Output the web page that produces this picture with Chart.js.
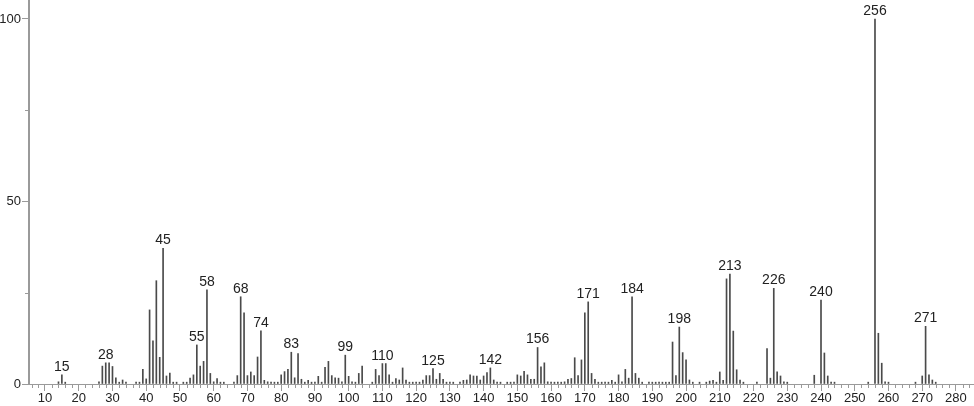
<!DOCTYPE html>
<html lang="en">
<head>
    <meta charset="UTF-8">
    <title>Mass Spectrum</title>
    <script src="https://cdn.jsdelivr.net/npm/chart.js@4/dist/chart.umd.min.js"></script>
    <style>
        body { margin: 0; background: #fff; }
        #wrap { width: 974px; height: 406px; }
    </style>
</head>
<body>
<div id="wrap"><canvas id="chart" width="974" height="406"></canvas></div>
<script>
// m/z values and relative intensities
const mz = [
    14, 15, 16, 26, 27, 28, 29, 30, 31, 32, 33, 34, 37, 38, 39, 40,
    41, 42, 43, 44, 45, 46, 47, 48, 49, 51, 52, 53, 54, 55, 56, 57,
    58, 59, 60, 61, 62, 63, 66, 67, 68, 69, 70, 71, 72, 73, 74, 75,
    76, 77, 78, 79, 80, 81, 82, 83, 84, 85, 86, 87, 88, 89, 90, 91,
    92, 93, 94, 95, 96, 97, 98, 99, 100, 101, 102, 103, 104, 107, 108, 109,
    110, 111, 112, 113, 114, 115, 116, 117, 118, 119, 120, 121, 122, 123, 124, 125,
    126, 127, 128, 129, 130, 131, 133, 134, 135, 136, 137, 138, 139, 140, 141, 142,
    143, 144, 145, 147, 148, 149, 150, 151, 152, 153, 154, 155, 156, 157, 158, 159,
    160, 161, 162, 163, 164, 165, 166, 167, 168, 169, 170, 171, 172, 173, 174, 175,
    176, 177, 178, 179, 180, 181, 182, 183, 184, 185, 186, 187, 189, 190, 191, 192,
    193, 194, 195, 196, 197, 198, 199, 200, 201, 202, 204, 206, 207, 208, 209, 210,
    211, 212, 213, 214, 215, 216, 217, 221, 224, 225, 226, 227, 228, 229, 230, 238,
    240, 241, 242, 243, 244, 254, 256, 257, 258, 259, 260, 268, 270, 271, 272, 273,
    274
];
const intensity = [
    0.6, 2.5, 0.5, 0.6, 4.9, 5.8, 5.8, 4.8, 1.7, 0.5, 1.1, 0.5, 0.5, 0.5, 4.0, 1.4,
    20.3, 11.8, 28.3, 7.3, 37.2, 2.2, 3.0, 0.5, 0.5, 0.5, 0.5, 1.6, 2.5, 10.7, 4.9, 6.2,
    25.8, 2.9, 0.6, 1.5, 0.5, 0.5, 0.5, 2.3, 23.9, 19.5, 2.3, 3.3, 2.3, 7.4, 14.6, 1.0,
    0.6, 0.5, 0.5, 0.5, 2.5, 3.4, 4.0, 8.7, 1.7, 8.3, 1.3, 0.5, 1.0, 0.5, 0.5, 2.1,
    0.5, 4.6, 6.2, 2.3, 1.7, 1.6, 0.6, 7.9, 2.1, 0.6, 0.5, 2.9, 4.9, 0.5, 4.0, 2.3,
    5.6, 5.6, 2.5, 0.5, 1.5, 1.1, 4.4, 1.1, 0.5, 0.5, 0.5, 0.5, 1.1, 2.3, 2.3, 4.2,
    1.3, 2.9, 1.3, 0.5, 0.5, 0.5, 0.5, 1.0, 1.1, 2.5, 2.2, 2.2, 1.1, 2.2, 3.1, 4.4,
    1.1, 0.5, 0.5, 0.5, 0.5, 0.5, 2.5, 2.2, 3.5, 2.5, 1.3, 1.3, 10.0, 4.7, 5.8, 0.6,
    0.5, 0.5, 0.5, 0.5, 0.6, 1.3, 1.5, 7.2, 2.3, 6.6, 19.5, 22.5, 2.9, 1.3, 0.5, 0.5,
    0.5, 0.5, 1.0, 0.5, 2.5, 0.6, 4.0, 1.6, 23.9, 2.9, 1.6, 0.5, 0.5, 0.5, 0.5, 0.5,
    0.5, 0.5, 0.5, 11.5, 2.3, 15.6, 8.6, 6.6, 1.1, 0.5, 0.5, 0.5, 0.8, 1.0, 0.5, 3.3,
    1.0, 28.8, 30.1, 14.5, 3.9, 1.1, 0.5, 0.5, 9.7, 1.6, 26.2, 3.3, 2.2, 0.6, 0.5, 2.4,
    23.0, 8.5, 2.2, 0.5, 0.5, 0.5, 100, 13.9, 5.7, 0.6, 0.5, 0.5, 2.2, 15.8, 2.5, 1.1,
    0.5
];
// peaks that carry an m/z label
const labeledPeaks = [15, 28, 45, 55, 58, 68, 74, 83, 99, 110, 125, 142, 156, 171, 184, 198, 213, 226, 240, 256, 271];
const xMajorTicks = [];
for (let v = 10; v <= 280; v += 10) xMajorTicks.push(v);
const yMajorTicks = [0, 50, 100];
const yMinorTicks = [25, 75];

const axisColor = '#9a9a9a';
const textColor = '#222';

// minor tick marks + peak labels
const extras = {
    id: 'extras',
    afterDraw(chart) {
        const ctx = chart.ctx;
        const xs = chart.scales.x, ys = chart.scales.y;
        const area = chart.chartArea;
        ctx.save();
        ctx.strokeStyle = axisColor;
        ctx.lineWidth = 1;
        ctx.beginPath();
        for (let v = 6; v <= 284; v += 2) {
            if (v % 10 === 0) continue;
            const px = Math.round(xs.getPixelForValue(v)) + 0.5;
            ctx.moveTo(px, area.bottom);
            ctx.lineTo(px, area.bottom + 4);
        }
        yMinorTicks.forEach(v => {
            const py = Math.round(ys.getPixelForValue(v)) + 0.5;
            ctx.moveTo(area.left, py);
            ctx.lineTo(area.left - 4, py);
        });
        ctx.stroke();

        const meta = chart.getDatasetMeta(0);
        ctx.fillStyle = textColor;
        ctx.font = '14px "Liberation Sans", Arial, sans-serif';
        ctx.textAlign = 'center';
        ctx.textBaseline = 'alphabetic';
        labeledPeaks.forEach(p => {
            const i = mz.indexOf(p);
            if (i < 0) return;
            const bar = meta.data[i];
            ctx.fillText(String(p), bar.x, bar.y - 4);
        });
        ctx.restore();
    }
};

const ctx = document.getElementById('chart').getContext('2d');
new Chart(ctx, {
    type: 'bar',
    data: {
        datasets: [{
            data: mz.map((m, i) => ({ x: m, y: intensity[i] })),
            backgroundColor: '#4a4a4a',
            borderWidth: 0,
            barThickness: 1
        }]
    },
    options: {
        responsive: false,
        animation: false,
        layout: { padding: { top: 0, right: 1, bottom: 0, left: 0 } },
        plugins: { legend: { display: false }, tooltip: { enabled: false } },
        scales: {
            x: {
                type: 'linear',
                offset: false,
                min: 5.258,
                max: 285.05,
                afterBuildTicks: s => { s.ticks = xMajorTicks.map(v => ({ value: v })); },
                afterFit: s => {
                    s.height = 22;
                    s.paddingLeft = 0;
                    s.paddingRight = 0;
                },
                grid: { drawOnChartArea: false, drawTicks: true, tickLength: 7, color: axisColor, offset: false },
                border: { display: true, color: axisColor, width: 1 },
                ticks: {
                    color: textColor,
                    padding: 0,
                    maxRotation: 0,
                    autoSkip: false,
                    font: { family: '"Liberation Sans", Arial, sans-serif', size: 13 }
                }
            },
            y: {
                min: 0,
                max: 105.2,
                afterBuildTicks: s => { s.ticks = yMajorTicks.map(v => ({ value: v })); },
                afterFit: s => {
                    s.width = 29;
                    s.paddingTop = 0;
                    s.paddingBottom = 0;
                },
                grid: { drawOnChartArea: false, drawTicks: true, tickLength: 7, color: axisColor },
                border: { display: true, color: axisColor, width: 2 },
                ticks: {
                    color: textColor,
                    padding: 1,
                    font: { family: '"Liberation Sans", Arial, sans-serif', size: 13 }
                }
            }
        }
    },
    plugins: [extras]
});
</script>
</body>
</html>
